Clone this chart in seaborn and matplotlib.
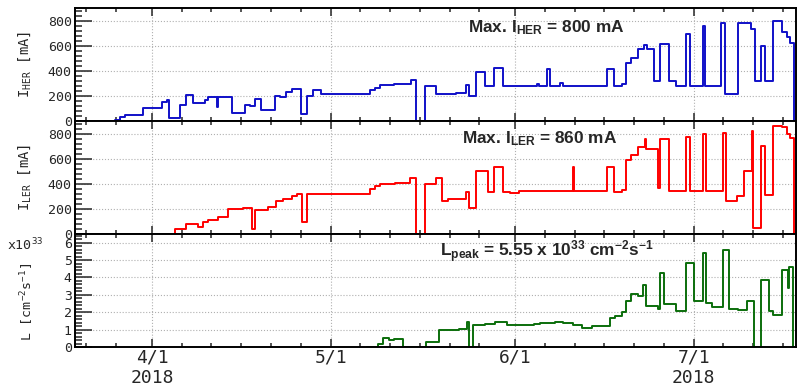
import pandas as pd
import seaborn as sns
import matplotlib.pyplot as plt
import matplotlib.dates as mdates
from matplotlib.ticker import MultipleLocator, FuncFormatter

# step changes: days after 2018-04-01 and the value from that day on
her_day = [-13.0, -8.7, -6.2, -5.4, -4.5, -1.5, 1.7, 2.5, 2.8, 4.7, 5.7, 6.9, 8.9, 9.5, 10.9, 11.1,
           13.5, 15.6, 16.5, 17.3, 18.4, 20.6, 21.5, 22.5, 23.5, 25.0, 26.0, 27.1, 28.4, 36.6, 37.5,
           38.3, 40.6, 43.6, 44.4, 45.9, 47.8, 51.1, 52.8, 53.2, 54.5, 56.0, 57.4, 58.9, 60.2, 64.7,
           65.1, 66.3, 66.9, 68.6, 69.1, 76.4, 77.6, 78.9, 79.7, 80.4, 81.7, 82.6, 83.1, 84.4, 85.4,
           86.9, 88.1, 89.7, 90.4, 92.6, 92.9, 95.6, 96.3, 98.5, 100.6, 101.3, 102.3, 103.0, 104.4,
           105.8, 106.7, 107.2, 107.9, 108.3]
her_ma = [0, 3, 5, 35, 50, 100, 150, 168, 27, 127, 205, 146, 168, 190, 115, 190,
          65, 127, 119, 176, 87, 200, 195, 230, 255, 54, 198, 249, 214, 250, 268,
          285, 296, 331, 0, 283, 215, 224, 288, 202, 396, 283, 423, 283, 277, 294,
          283, 418, 283, 304, 283, 418, 283, 294, 466, 506, 579, 610, 579, 320, 620,
          323, 283, 695, 283, 762, 283, 781, 215, 781, 740, 323, 600, 323, 800,
          714, 673, 628, 0, 0]

ler_day = [-13.0, 3.9, 5.7, 7.8, 8.6, 9.5, 11.1, 12.8, 15.3, 16.8, 17.3, 19.5, 20.8, 22.1, 23.5,
           24.3, 25.2, 26.0, 36.6, 37.5, 38.3, 40.8, 43.4, 44.4, 45.8, 47.8, 48.7, 49.8, 52.8, 53.3,
           54.5, 56.4, 57.5, 58.9, 60.1, 61.6, 70.7, 70.9, 76.4, 77.6, 78.9, 79.7, 80.4, 81.7, 82.8,
           83.0, 85.0, 85.4, 86.9, 89.7, 90.4, 92.6, 93.1, 95.9, 96.5, 98.2, 99.5, 100.8, 101.0,
           102.3, 103.0, 104.4, 105.8, 106.7, 107.2, 107.9, 108.3]
ler_ma = [0, 37, 78, 56, 99, 110, 139, 200, 206, 37, 190, 219, 265, 278, 305,
          318, 99, 318, 358, 385, 400, 407, 447, 0, 401, 447, 268, 281, 340, 206,
          503, 340, 540, 340, 329, 343, 540, 343, 540, 340, 353, 594, 629, 696, 757,
          682, 367, 757, 343, 776, 343, 797, 343, 805, 268, 302, 503, 821, 45,
          704, 316, 864, 856, 803, 768, 0, 0]

lum_day = [36.1, 37.9, 38.9, 39.9, 40.6, 42.2, 46.1, 48.3, 49.7, 50.4, 51.6, 52.9, 53.2, 54.0,
           56.0, 57.6, 59.6, 61.8, 64.1, 65.2, 67.7, 69.1, 70.8, 72.2, 73.9, 76.9, 77.8, 78.9,
           79.7, 80.4, 81.7, 82.5, 83.0, 85.0, 85.4, 86.1, 88.1, 89.7, 91.0, 92.6, 93.1, 94.1,
           95.9, 97.0, 98.4, 99.9, 101.2, 102.3, 103.7, 104.3, 105.8, 106.8, 107.1, 107.7, 108.3]
lum_e33 = [0, 0.2, 0.5, 0.42, 0.48, 0, 0.28, 0.95, 1.0, 0.95, 1.04, 1.43, 0, 1.24,
           1.33, 1.42, 1.27, 1.25, 1.31, 1.38, 1.44, 1.38, 1.25, 1.08, 1.18, 1.65, 1.81, 2.04,
           2.67, 3.06, 2.92, 3.58, 2.38, 2.2, 4.27, 2.48, 2.06, 4.85, 2.67, 5.42, 2.54, 2.29,
           5.55, 2.19, 2.15, 2.62, 0, 3.88, 2.06, 1.85, 4.4, 3.38, 4.6, 0, 0]

month_labels = {4: "4/1\n2018", 5: "5/1", 6: "6/1", 7: "7/1\n2018"}

t0 = pd.Timestamp("2018-04-01")


def frame(days, vals):
    return pd.DataFrame({"date": t0 + pd.to_timedelta(days, unit="D"), "value": vals})


sns.set_style("ticks")
plt.rcParams["font.family"] = ["DejaVu Sans Mono"]
plt.rcParams["mathtext.default"] = "regular"

fig = plt.figure(figsize=(7.97, 3.89), dpi=100)
left, width, h = 0.0935, 0.9053, 0.2905
ax_her = fig.add_axes([left, 0.108 + 2 * h, width, h])
ax_ler = fig.add_axes([left, 0.108 + h, width, h])
ax_lum = fig.add_axes([left, 0.108, width, h])

panels = [
    (ax_her, frame(her_day, her_ma), "#1010c8", (0, 905), r"I$_{HER}$ [mA]"),
    (ax_ler, frame(ler_day, ler_ma), "#ff0000", (0, 905), r"I$_{LER}$ [mA]"),
    (ax_lum, frame(lum_day, lum_e33), "#0b6e0b", (0, 6.5), r"L [cm$^{-2}$s$^{-1}$]"),
]

for ax, df, col, ylim, lab in panels:
    sns.lineplot(data=df, x="date", y="value", ax=ax, color=col, lw=1.4,
                 drawstyle="steps-post", estimator=None, sort=False)
    ax.set_xlim(t0 + pd.Timedelta(days=-13.0), t0 + pd.Timedelta(days=108.2))
    ax.set_ylim(*ylim)
    ax.set_xlabel("")
    ax.set_ylabel(lab, fontsize=10)
    ax.yaxis.set_label_coords(-0.057, 0.5)
    ax.xaxis.set_major_locator(mdates.MonthLocator())
    ax.xaxis.set_minor_locator(mdates.DayLocator(bymonthday=[6, 11, 16, 21, 26]))
    ax.grid(True, which="major", ls=":", color="#b0b0b0", lw=0.8)
    ax.tick_params(axis="x", which="both", direction="in", top=True, bottom=True, width=1.1)
    ax.tick_params(axis="x", which="major", length=6)
    ax.tick_params(axis="x", which="minor", length=3)
    ax.tick_params(axis="y", which="both", direction="in", width=1.1, labelsize=9.5, pad=2)
    ax.tick_params(axis="y", which="major", length=12)
    ax.tick_params(axis="y", which="minor", length=5)
    for s in ax.spines.values():
        s.set_linewidth(1.4)
        s.set_color("black")

for ax in (ax_her, ax_ler):
    ax.yaxis.set_major_locator(MultipleLocator(200))
    ax.yaxis.set_minor_locator(MultipleLocator(40))
    ax.tick_params(axis="x", which="both", labelbottom=False)

ax_lum.yaxis.set_major_locator(MultipleLocator(1))
ax_lum.yaxis.set_minor_locator(MultipleLocator(0.2))
ax_lum.yaxis.label.set_fontsize(9.5)
ax_lum.yaxis.set_label_coords(-0.053, 0.40)
ax_lum.xaxis.set_major_formatter(FuncFormatter(lambda v, p: month_labels.get(mdates.num2date(v).month, "")))
ax_lum.tick_params(axis="x", which="major", labelsize=13, pad=1)
ax_lum.text(-0.093, 0.9, r"x10$^{33}$", transform=ax_lum.transAxes, fontsize=9.5, va="center")

note = dict(family=["Liberation Sans", "DejaVu Sans"], fontweight="bold", fontsize=12.4, va="baseline")
ax_her.text(0.545, 0.783, r"Max. I$_{HER}$ = 800 mA", transform=ax_her.transAxes, **note)
ax_ler.text(0.537, 0.80, r"Max. I$_{LER}$ = 860 mA", transform=ax_ler.transAxes, **note)
ax_lum.text(0.506, 0.80, r"L$_{peak}$ = 5.55 x 10$^{33}$ cm$^{-2}$s$^{-1}$", transform=ax_lum.transAxes, **note)

fig.savefig("out.png", dpi=100)
